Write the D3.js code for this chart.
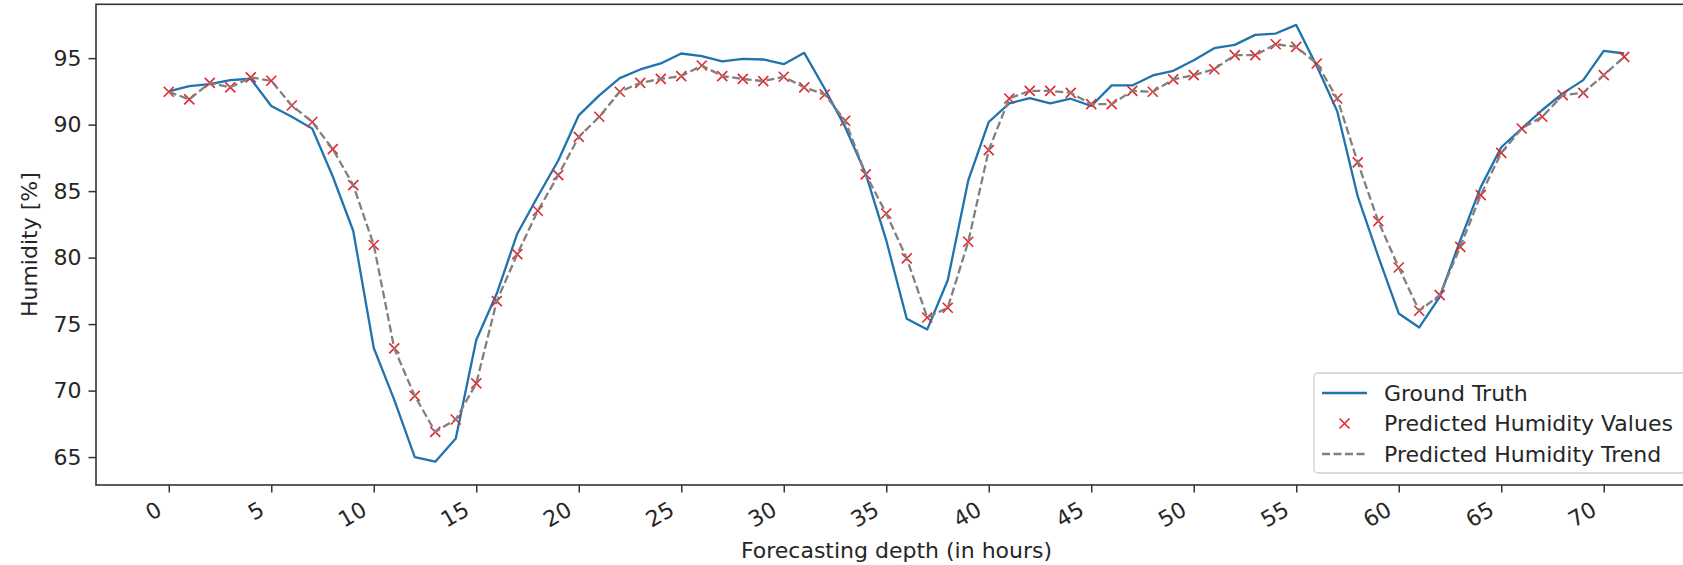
<!DOCTYPE html>
<html lang="en">
<head>
<meta charset="utf-8">
<script src="https://d3js.org/d3.v7.min.js"></script>
<style>
  body { margin: 0; background: #fff; }
  text { font-family: "DejaVu Sans", sans-serif; fill: #262626; }
</style>
</head>
<body>
<script>
// forecasting depth (hours) 0..71
const hours = d3.range(0, 72);

// ground truth humidity [%]
const groundTruth = [
  92.5, 92.9, 93.05, 93.35, 93.45, 91.4, 90.6, 89.7, 86.1, 82.0,
  73.2, 69.3, 65.0, 64.65, 66.4, 73.8, 77.3, 81.8, 84.6, 87.3,
  90.7, 92.2, 93.5, 94.15, 94.6, 95.35, 95.15, 94.75, 94.95, 94.9,
  94.55, 95.4, 92.7, 89.8, 86.3, 81.3, 75.4, 74.6, 78.3, 85.8,
  90.2, 91.6, 92.0, 91.6, 91.95, 91.4, 92.95, 92.95, 93.7, 94.05,
  94.85, 95.75, 96.0, 96.75, 96.85, 97.5, 94.4, 91.0, 84.6, 80.1,
  75.8, 74.75, 77.05, 81.3, 85.3, 88.3, 89.7, 91.1, 92.35, 93.35,
  95.55, 95.35
];

// predicted humidity [%]
const predicted = [
  92.47, 91.9, 93.14, 92.8, 93.55, 93.3, 91.44, 90.2, 88.16, 85.45,
  80.95, 73.17, 69.6, 66.9, 67.83, 70.54, 76.73, 80.26, 83.52, 86.2,
  89.08, 90.59, 92.47, 93.14, 93.44, 93.65, 94.45, 93.65, 93.44, 93.27,
  93.6, 92.8, 92.27, 90.29, 86.26, 83.32, 79.94, 75.5, 76.23, 81.19,
  88.08, 91.97, 92.54, 92.54, 92.39, 91.54, 91.54, 92.54, 92.47, 93.4,
  93.72, 94.17, 95.23, 95.23, 96.05, 95.85, 94.6, 91.97, 87.16, 82.74,
  79.26, 76.0, 77.18, 80.81, 84.7, 87.88, 89.71, 90.59, 92.22, 92.39,
  93.72, 95.1
];

const xTicks = [0, 5, 10, 15, 20, 25, 30, 35, 40, 45, 50, 55, 60, 65, 70];
const yTicks = [65, 70, 75, 80, 85, 90, 95];
const legendLabels = ["Ground Truth", "Predicted Humidity Values", "Predicted Humidity Trend"];

// layout
const W = 1683, H = 565;
const plotLeft = 96, plotTop = 4.3, plotW = 1601, plotH = 480.7;
const fs = 22;
const blue = "#1f74ad", red = "#e8262b", grey = "#808080";

const svg = d3.select("body").append("svg")
  .attr("width", W).attr("height", H);

const g = svg.append("g").attr("transform", `translate(${plotLeft},${plotTop})`);

const x = d3.scaleLinear().domain([-3.55, 74.55]).range([0, plotW]);
const y = d3.scaleLinear().domain([62.9, 99.05]).range([plotH, 0]);

// x axis
const xAxis = g.append("g")
  .attr("transform", `translate(0,${plotH})`)
  .call(d3.axisBottom(x).tickValues(xTicks).tickSize(7.5).tickSizeOuter(0));
xAxis.selectAll("text")
  .attr("y", null).attr("dy", null)
  .attr("text-anchor", "end")
  .attr("transform", "translate(-6,29) rotate(-30)");

// y axis
g.append("g")
  .call(d3.axisLeft(y).tickValues(yTicks).tickSize(7.5).tickPadding(7).tickSizeOuter(0));

g.selectAll(".tick text").attr("font-size", fs).style("fill", "#262626");
g.selectAll(".tick line").attr("stroke", "#333").attr("stroke-width", 1.5);
g.selectAll(".domain").remove();

// frame
g.append("rect")
  .attr("width", plotW).attr("height", plotH)
  .attr("fill", "none").attr("stroke", "#333").attr("stroke-width", 1.6);

// ground truth line
g.append("path")
  .datum(hours)
  .attr("fill", "none")
  .attr("stroke", blue)
  .attr("stroke-width", 2.3)
  .attr("stroke-linejoin", "round")
  .attr("d", d3.line().x(d => x(d)).y(d => y(groundTruth[d])));

// predicted markers
const ms = 5;
g.append("g").selectAll("path")
  .data(hours)
  .join("path")
  .attr("transform", d => `translate(${x(d)},${y(predicted[d])})`)
  .attr("d", `M${-ms},${-ms}L${ms},${ms}M${-ms},${ms}L${ms},${-ms}`)
  .attr("stroke", red)
  .attr("stroke-width", 1.6);

// predicted trend line
g.append("path")
  .datum(hours)
  .attr("fill", "none")
  .attr("stroke", grey)
  .attr("stroke-width", 2.3)
  .attr("stroke-dasharray", "8,3.5")
  .attr("d", d3.line().x(d => x(d)).y(d => y(predicted[d])));

// axis titles
svg.append("text")
  .attr("x", plotLeft + plotW / 2).attr("y", 558)
  .attr("text-anchor", "middle").attr("font-size", fs)
  .text("Forecasting depth (in hours)");

svg.append("text")
  .attr("transform", `translate(37,${plotTop + plotH / 2}) rotate(-90)`)
  .attr("text-anchor", "middle").attr("font-size", fs)
  .text("Humidity [%]");

// legend
const lg = svg.append("g").attr("transform", "translate(1314,373)");
lg.append("rect")
  .attr("width", 373).attr("height", 100).attr("rx", 4)
  .attr("fill", "#fff").attr("fill-opacity", 0.8)
  .attr("stroke", "#d0d0d0").attr("stroke-width", 1.3);

const rowY = [20, 50.5, 81];
lg.append("line")
  .attr("x1", 8).attr("x2", 53).attr("y1", rowY[0]).attr("y2", rowY[0])
  .attr("stroke", blue).attr("stroke-width", 2.3);
lg.append("path")
  .attr("transform", `translate(30.5,${rowY[1]})`)
  .attr("d", `M${-ms},${-ms}L${ms},${ms}M${-ms},${ms}L${ms},${-ms}`)
  .attr("stroke", red).attr("stroke-width", 1.6);
lg.append("line")
  .attr("x1", 8).attr("x2", 53).attr("y1", rowY[2]).attr("y2", rowY[2])
  .attr("stroke", grey).attr("stroke-width", 2.3).attr("stroke-dasharray", "8,3.5");

lg.selectAll("text.lbl")
  .data(legendLabels)
  .join("text")
  .attr("class", "lbl")
  .attr("x", 70)
  .attr("y", (d, i) => rowY[i] + 7.5)
  .attr("font-size", fs)
  .text(d => d);
</script>
</body>
</html>
